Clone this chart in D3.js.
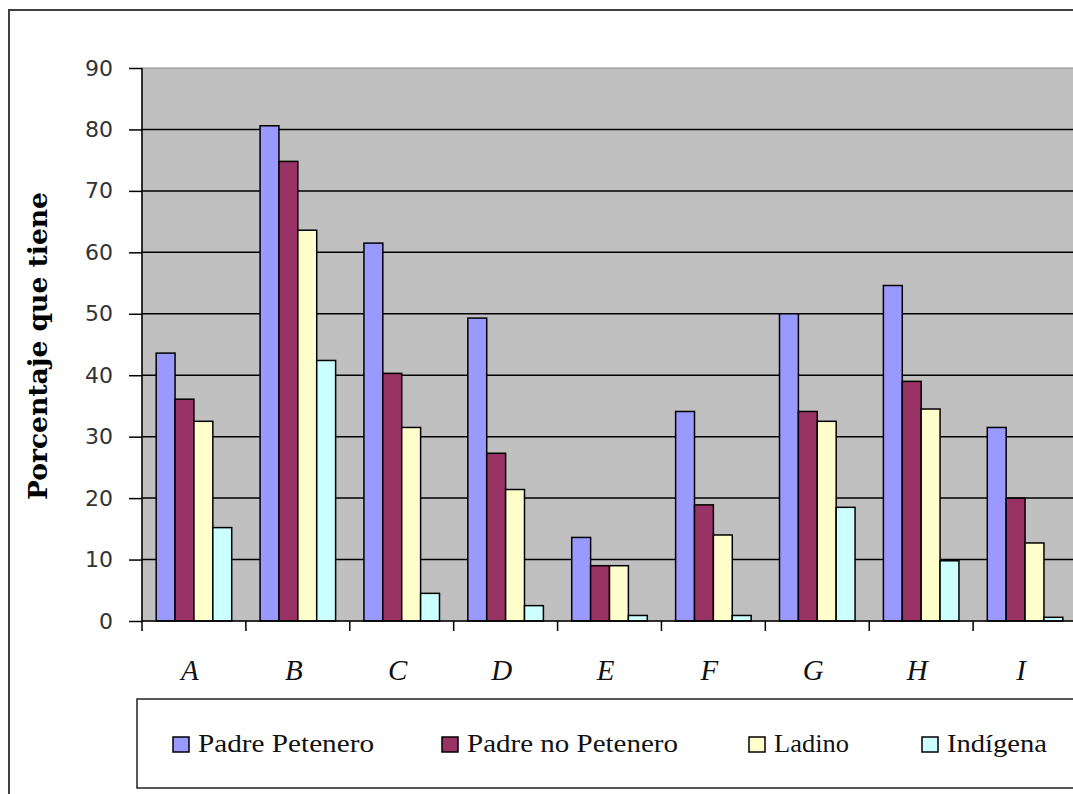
<!DOCTYPE html>
<html>
<head>
<meta charset="utf-8">
<script src="https://cdn.jsdelivr.net/npm/d3@7"></script>
<style>
  body { margin: 0; background: #fff; }
  svg { display: block; }
</style>
</head>
<body>
<svg id="chart" width="1073" height="794"></svg>
<script>
// categories and series
const categories = ["A", "B", "C", "D", "E", "F", "G", "H", "I"];
const seriesNames = ["Padre Petenero", "Padre no Petenero", "Ladino", "Indígena"];
const seriesColors = ["#9999FF", "#993366", "#FFFFCC", "#CCFFFF"];

// values (percent)
const padrePetenero   = [43.6, 80.6, 61.5, 49.3, 13.6, 34.1, 50.0, 54.6, 31.5];
const padreNoPetenero = [36.1, 74.8, 40.3, 27.3, 9.0, 18.9, 34.1, 39.0, 20.0];
const ladino          = [32.5, 63.6, 31.5, 21.4, 9.0, 14.0, 32.5, 34.5, 12.7];
const indigena        = [15.2, 42.4, 4.5, 2.5, 0.9, 0.9, 18.5, 9.8, 0.6];

const yTicks = [0, 10, 20, 30, 40, 50, 60, 70, 80, 90];

const seriesValues = [padrePetenero, padreNoPetenero, ladino, indigena];

const svg = d3.select("#chart");

// outer chart frame (runs past the right / bottom edge of the window)
svg.append("rect")
  .attr("x", 9).attr("y", 10)
  .attr("width", 1120).attr("height", 830)
  .attr("fill", "#fff")
  .attr("stroke", "#404040")
  .attr("stroke-width", 2);

const plot = { left: 142, top: 68, bottom: 621, right: 1077 };

const x0 = d3.scaleBand()
  .domain(categories)
  .range([plot.left, plot.right])
  .paddingInner(0).paddingOuter(0);

const bw = x0.bandwidth();
const barW = bw / 5.5;
const x1 = d3.scaleBand()
  .domain(seriesNames)
  .range([barW * 0.75, barW * 4.75]);

const y = d3.scaleLinear().domain([0, 90]).range([plot.bottom, plot.top]);

// plot area
svg.append("rect")
  .attr("x", plot.left).attr("y", plot.top)
  .attr("width", plot.right - plot.left).attr("height", plot.bottom - plot.top)
  .attr("fill", "#C0C0C0")
  .attr("stroke", "#8a8a8a")
  .attr("stroke-width", 1);

// gridlines
svg.append("g")
  .selectAll("line")
  .data(yTicks.filter(d => d > 0 && d < 90))
  .join("line")
    .attr("x1", plot.left).attr("x2", plot.right)
    .attr("y1", d => y(d)).attr("y2", d => y(d))
    .attr("stroke", "#000")
    .attr("stroke-width", 1.5);

// bars
const groups = svg.append("g")
  .selectAll("g")
  .data(categories)
  .join("g")
    .attr("transform", d => `translate(${x0(d)},0)`);

groups.selectAll("rect")
  .data((d, i) => seriesNames.map((s, j) => ({ s: s, j: j, v: seriesValues[j][i] })))
  .join("rect")
    .attr("x", d => x1(d.s))
    .attr("y", d => y(d.v))
    .attr("width", x1.bandwidth())
    .attr("height", d => y(0) - y(d.v))
    .attr("fill", d => seriesColors[d.j])
    .attr("stroke", "#000")
    .attr("stroke-width", 1.5);

// y axis
const yAxis = d3.axisLeft(y)
  .tickValues(yTicks)
  .tickSize(13)
  .tickPadding(16);

const gy = svg.append("g")
  .attr("transform", `translate(${plot.left},0)`)
  .call(yAxis);
gy.select(".domain").attr("stroke", "#000").attr("stroke-width", 1.5)
  .attr("d", `M0,${plot.top}V${plot.bottom}`);
gy.selectAll(".tick line").attr("stroke", "#000").attr("stroke-width", 1.5);
gy.selectAll(".tick text")
  .attr("fill", "#333")
  .style("font-family", "'DejaVu Sans', Verdana, sans-serif")
  .style("font-size", "22px");

// x axis: ticks at the category boundaries
const gx = svg.append("g");
gx.append("line")
  .attr("x1", plot.left).attr("x2", plot.right)
  .attr("y1", plot.bottom).attr("y2", plot.bottom)
  .attr("stroke", "#000").attr("stroke-width", 1.5);
gx.selectAll("line.tk")
  .data(categories)
  .join("line")
    .attr("class", "tk")
    .attr("x1", d => x0(d)).attr("x2", d => x0(d))
    .attr("y1", plot.bottom).attr("y2", plot.bottom + 10)
    .attr("stroke", "#000").attr("stroke-width", 1.5);
gx.selectAll("text")
  .data(categories)
  .join("text")
    .attr("x", d => x0(d) + bw / 2 - 4)
    .attr("y", 680)
    .attr("text-anchor", "middle")
    .attr("fill", "#111")
    .style("font-family", "'Liberation Serif', 'Times New Roman', serif")
    .style("font-style", "italic")
    .style("font-size", "29px")
    .text(d => d);

// y axis title
svg.append("text")
  .attr("transform", "translate(47,346) rotate(-90)")
  .attr("text-anchor", "middle")
  .attr("textLength", 308)
  .attr("lengthAdjust", "spacingAndGlyphs")
  .attr("fill", "#000")
  .style("font-family", "'DejaVu Serif', 'Liberation Serif', serif")
  .style("font-weight", "bold")
  .style("font-size", "26px")
  .text("Porcentaje que tiene");

// legend
const legend = svg.append("g");
legend.append("rect")
  .attr("x", 137).attr("y", 699)
  .attr("width", 1000).attr("height", 89)
  .attr("fill", "#fff")
  .attr("stroke", "#222")
  .attr("stroke-width", 1.5);

const legendX = [173, 442, 749, 922];
const legendTextW = [176, 211, 75, 100];
const item = legend.selectAll("g.item")
  .data(seriesNames)
  .join("g")
    .attr("class", "item")
    .attr("transform", (d, i) => `translate(${legendX[i]},737)`);
item.append("rect")
  .attr("width", 16).attr("height", 15)
  .attr("fill", (d, i) => seriesColors[i])
  .attr("stroke", "#000")
  .attr("stroke-width", 1.5);
item.append("text")
  .attr("x", 25).attr("y", 15)
  .attr("fill", "#111")
  .attr("textLength", (d, i) => legendTextW[i])
  .attr("lengthAdjust", "spacingAndGlyphs")
  .style("font-family", "'Liberation Serif', 'Times New Roman', serif")
  .style("font-size", "25px")
  .text(d => d);
</script>
</body>
</html>
